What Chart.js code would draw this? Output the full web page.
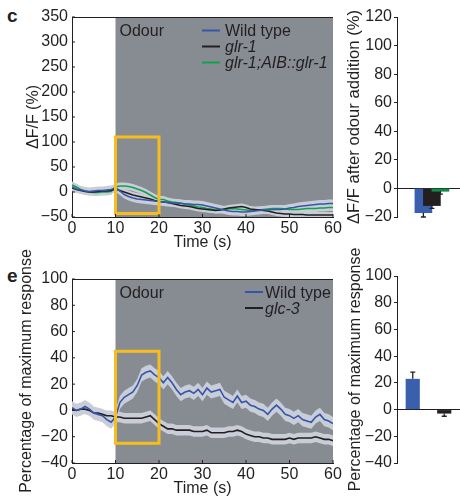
<!DOCTYPE html>
<html>
<head>
<meta charset="utf-8">
<script src="https://cdn.jsdelivr.net/npm/chart.js@4.4.1/dist/chart.umd.min.js"></script>
<style>
  html, body { margin:0; padding:0; background:#fff; width:460px; height:498px; overflow:hidden; position:relative; }
  canvas { position:absolute; }
  .lbl { position:absolute; font:bold 19px "Liberation Sans", Arial, sans-serif; line-height:1; color:#231f20; }
</style>
</head>
<body>
<div class="lbl" style="left:7px;top:6px">c</div>
<div class="lbl" style="left:7px;top:266px">e</div>
<canvas id="c1" width="345" height="252" style="left:0;top:0"></canvas>
<canvas id="c2" width="120" height="250" style="left:340px;top:0"></canvas>
<canvas id="e1" width="345" height="258" style="left:0;top:240px"></canvas>
<canvas id="e2" width="120" height="258" style="left:340px;top:240px"></canvas>
<script>
// time axis (s)
const timeS = [0,1,2,3,4,5,6,7,8,9,10,11,12,13,14,15,16,17,18,19,20,21,22,23,24,25,26,27,28,29,30,
  31,32,33,34,35,36,37,38,39,40,41,42,43,44,45,46,47,48,49,50,51,52,53,54,55,56,57,58,59,60];
const odourOn = 10;

// panel c: dF/F (%)
const wtC = [10,6,4,2,1,2,3,3,4,5, 8,2,-5,-9,-12,-14,-15,-16,-17,-18, -19,-20,-21,-22,-22,-23,-24,-24,-25,-25,
  -26,-28,-30,-32,-34,-36,-38,-39,-39,-40, -40,-39,-38,-37,-36,-36,-35,-35,-35,-34, -32,-31,-29,-28,-27,-26,-25,-24,-24,-23, -23];
const glrC = [8,5,3,1,0,0,1,2,2,3, 6,3,0,-3,-6,-8,-10,-12,-14,-17, -19,-20,-21,-23,-25,-27,-28,-29,-31,-33,
  -34,-35,-36,-37,-36,-34,-32,-31,-30,-29, -31,-34,-35,-36,-37,-38,-40,-42,-43,-44, -44,-45,-45,-45,-46,-46,-46,-46,-46,-46, -46];
const aibC = [14,10,5,2,0,-1,-1,0,0,1, 10,12,12,11,9,6,3,-1,-6,-11, -15,-15,-18,-20,-21,-22,-24,-26,-28,-30,
  -31,-33,-34,-36,-36,-35,-34,-33,-34,-35, -36,-37,-37,-36,-35,-34,-33,-33,-33,-34, -35,-35,-35,-34,-33,-33,-33,-32,-32,-31, -31];
const semC = [8, 6, 7];
const boxC = [10, 20, 110, -43];

// panel c bars: dF/F after odour addition
const barPosC = [1, 2, 3];
const barC = [-17, -12, -2];
const barErrC = [3, 2, 2];

// panel e: percentage of maximum response
const wtE = [2,0,1,3,1,-2,-3,-4,-7,-9, -5,6,10,12,14,19,27,29,30,27, 25,21,25,21,16,12,14,15,13,16,
  12,17,14,15,16,10,8,6,11,6, 7,4,3,1,0,-3,1,4,1,-3, -4,-6,-4,-7,-8,-9,-5,-3,-7,-8, -10];
const glcE = [1,0,1,1,0,-2,-2,-3,-4,-4, -5,-5,-6,-6,-6,-6,-6,-5,-4,-7, -10,-12,-14,-14,-15,-15,-15,-15,-16,-16,
  -16,-15,-17,-17,-17,-17,-16,-16,-15,-16, -18,-19,-20,-20,-21,-21,-22,-22,-22,-22, -21,-22,-21,-21,-21,-21,-20,-21,-22,-22, -23];
const semE = [5, 4];
const boxE = [10, 20, 45, -25];

// panel e bars
const barLabelsE = ['Wild type', 'glc-3'];
const barE = [23, -3];
const barErrE = [5, 2];

const font = '"Liberation Sans", Arial, Helvetica, sans-serif';
const ink = '#231f20';
const blue = '#3455a8', green = '#13a04c', bandCol = '#c9cdd7';
Chart.defaults.font.family = font;
Chart.defaults.font.size = 16;
Chart.defaults.color = ink;
Chart.defaults.animation = false;
Chart.defaults.plugins.legend.display = false;
Chart.defaults.plugins.tooltip.enabled = false;

const minus = v => v < 0 ? '\u2212' + Math.abs(v) : '' + v;
const pts = (vals, off) => timeS.map((t, i) => ({x: t, y: vals[i] + off}));

function bandSets(vals, sem) {
  return [
    {data: pts(vals, sem), borderColor: 'transparent', borderWidth: 0, pointRadius: 0, fill: '+1', backgroundColor: bandCol, order: 5},
    {data: pts(vals, -sem), borderColor: 'transparent', borderWidth: 0, pointRadius: 0, fill: false, order: 5}
  ];
}
function lineSet(label, vals, color, italic) {
  return {label, italic, data: pts(vals, 0), borderColor: color, borderWidth: 1.6, pointRadius: 0, fill: false, order: 1};
}

// odour shading, analysis window, in-plot legend, top frame and inward ticks
const deco = {
  id: 'deco',
  beforeDatasetsDraw(chart) {
    const {ctx, chartArea: a, scales: {x}} = chart;
    const x0 = x.getPixelForValue(odourOn), x1 = x.getPixelForValue(x.max);
    ctx.save();
    ctx.fillStyle = '#878c93';
    ctx.fillRect(x0, a.top, x1 - x0, a.bottom - a.top);
    ctx.restore();
  },
  afterDatasetsDraw(chart, args, o) {
    const {ctx, chartArea: a, scales: {x, y}} = chart;
    ctx.save();
    const l = x.getPixelForValue(o.box[0]), r = x.getPixelForValue(o.box[1]);
    const t = y.getPixelForValue(o.box[2]), b = y.getPixelForValue(o.box[3]);
    ctx.strokeStyle = '#f7bd1d'; ctx.lineWidth = 3;
    ctx.strokeRect(l, t, r - l, b - t);

    ctx.fillStyle = ink; ctx.textBaseline = 'alphabetic';
    ctx.font = '16px ' + font;
    ctx.fillText('Odour', x.getPixelForValue(odourOn) + 4, a.top + o.baseY);

    chart.data.datasets.filter(d => d.label).forEach((d, i) => {
      const by = a.top + o.baseY + i * o.rowH;
      ctx.strokeStyle = d.borderColor; ctx.lineWidth = 2;
      ctx.beginPath();
      ctx.moveTo(a.left + o.lineX, by - 5.5);
      ctx.lineTo(a.left + o.lineX + 18, by - 5.5);
      ctx.stroke();
      ctx.font = (d.italic ? 'italic ' : '') + '16px ' + font;
      ctx.fillText(d.label, a.left + o.lineX + o.textGap, by);
    });

    ctx.strokeStyle = ink; ctx.lineWidth = 1;
    ctx.beginPath();
    ctx.moveTo(a.left, a.top + 0.5); ctx.lineTo(a.right, a.top + 0.5);
    y.ticks.forEach(tk => { const py = y.getPixelForValue(tk.value); ctx.moveTo(a.left, py); ctx.lineTo(a.left + 3, py); });
    x.ticks.forEach(tk => { const px = x.getPixelForValue(tk.value); ctx.moveTo(px, a.bottom); ctx.lineTo(px, a.bottom - 3); });
    ctx.stroke();
    ctx.restore();
  }
};

const errBars = {
  id: 'errBars',
  afterDatasetsDraw(chart, args, o) {
    const {ctx, scales: {y}} = chart;
    const meta = chart.getDatasetMeta(0);
    ctx.save();
    ctx.strokeStyle = ink; ctx.lineWidth = 1.3;
    meta.data.forEach((bar, i) => {
      const v = o.vals[i];
      const base = y.getPixelForValue(v);
      const end = y.getPixelForValue(v + Math.sign(v) * o.err[i]);
      ctx.beginPath();
      ctx.moveTo(bar.x, base); ctx.lineTo(bar.x, end);
      ctx.moveTo(bar.x - 2.5, end); ctx.lineTo(bar.x + 2.5, end);
      ctx.stroke();
    });
    ctx.restore();
  }
};

function lineChart(id, o) {
  return new Chart(document.getElementById(id), {
    type: 'line',
    data: {datasets: o.datasets},
    options: {
      responsive: false,
      layout: {padding: o.pad},
      scales: {
        x: {type: 'linear', min: 0, max: 60, afterFit: s => { s.height = o.xh; },
            ticks: {stepSize: 10, padding: 2, maxRotation: 0},
            grid: {display: false, drawTicks: false}, border: {color: ink},
            title: {display: true, text: 'Time (s)', padding: 0}},
        y: {min: o.ymin, max: o.ymax, afterFit: s => { s.width = 72; },
            ticks: {stepSize: o.step, padding: 4, callback: minus},
            grid: {display: false, drawTicks: false}, border: {color: ink},
            title: {display: true, text: o.ytitle, padding: {top: o.tpad, bottom: 0}}}
      },
      plugins: {deco: o.deco}
    },
    plugins: [deco]
  });
}

function barChart(id, o) {
  return new Chart(document.getElementById(id), {
    type: 'bar',
    data: {labels: o.labels, datasets: [{data: o.data, backgroundColor: o.colors, borderWidth: 0,
      barThickness: o.thick, barPercentage: o.barPct, categoryPercentage: 1}]},
    options: {
      responsive: false,
      layout: {padding: o.pad},
      scales: {
        x: o.x,
        y: {min: o.ymin, max: o.ymax, afterFit: s => { s.width = 57; },
            ticks: {stepSize: 20, padding: 2, callback: minus},
            grid: {drawOnChartArea: true, drawTicks: true, tickLength: 3, tickColor: ink,
                   color: c => c.tick && c.tick.value === 0 ? ink : 'rgba(0,0,0,0)'},
            border: {color: ink},
            title: {display: true, text: o.ytitle, font: {size: o.tsize}, padding: {top: o.tpad, bottom: 0}}}
      },
      plugins: {errBars: {vals: o.vals, err: o.err}}
    },
    plugins: [errBars]
  });
}

lineChart('c1', {
  datasets: [...bandSets(wtC, semC[0]), ...bandSets(glrC, semC[1]), ...bandSets(aibC, semC[2]),
    lineSet('Wild type', wtC, blue, false), lineSet('glr-1', glrC, ink, true), lineSet('glr-1;AIB::glr-1', aibC, green, true)],
  pad: {top: 17, right: 12, left: 0, bottom: 0}, xh: 35,
  ymin: -50, ymax: 350, step: 50, ytitle: '\u0394F/F (%)', tpad: 24,
  deco: {box: boxC, baseY: 19, rowH: 16, lineX: 130, textGap: 23}
});

barChart('c2', {
  labels: ['Wild type', 'glr-1', 'glr-1;AIB::glr-1'],
  data: barPosC.map((p, i) => ({x: p, y: barC[i]})), vals: barC, err: barErrC,
  colors: ['#3a60ad', ink, '#0f8c47'], thick: 17, barPct: 1,
  x: {type: 'linear', min: -0.25, max: 3.45, display: false},
  pad: {top: 17, right: 0, left: 0, bottom: 33},
  ymin: -20, ymax: 120, ytitle: '\u0394F/F after odour addition (%)', tsize: 16.6, tpad: 4
});

lineChart('e1', {
  datasets: [...bandSets(wtE, semE[0]), ...bandSets(glcE, semE[1]),
    lineSet('Wild type', wtE, blue, false), lineSet('glc-3', glcE, ink, true)],
  pad: {top: 39, right: 12, left: 0, bottom: 0}, xh: 35,
  ymin: -40, ymax: 100, step: 20, ytitle: 'Percentage of maximum response', tpad: 17,
  deco: {box: boxE, baseY: 18.5, rowH: 16, lineX: 173, textGap: 20}
});

barChart('e2', {
  labels: barLabelsE, data: barE, vals: barE, err: barErrE,
  colors: ['#3a60ad', ink], barPct: 0.45,
  x: {display: false},
  pad: {top: 36, right: 0, left: 0, bottom: 35},
  ymin: -40, ymax: 100, ytitle: 'Percentage of maximum response', tsize: 16, tpad: 6
});
</script>
</body>
</html>
